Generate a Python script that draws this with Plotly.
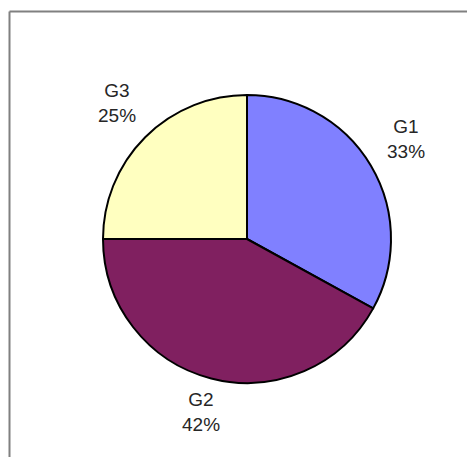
import math
import plotly.graph_objects as go

categories = ["G1", "G2", "G3"]
values = [33, 42, 25]
colors = ["#8080FF", "#802060", "#FFFFC0"]

W, H = 475, 457
OFF = 8  # page body margin in the screenshot
CX, CY, R = 247 - OFF, 239 - OFF, 144  # pie centre / radius in figure pixels

fig = go.Figure(go.Pie(
    labels=categories,
    values=values,
    sort=False,
    direction="clockwise",
    rotation=0,
    marker=dict(colors=colors, line=dict(color="#000000", width=2)),
    textinfo="none",
    hoverinfo="label+percent",
    showlegend=False,
    domain=dict(x=[(CX - R) / W, (CX + R) / W],
                y=[(H - CY - R) / H, (H - CY + R) / H]),
))

# data labels placed outside each slice at its mid angle
total = sum(values)
cum = 0
annotations = []
for cat, v in zip(categories, values):
    mid = (cum + v / 2) / total * 2 * math.pi
    cum += v
    s, c = math.sin(mid), math.cos(mid)
    rr = R * 1.28
    px = CX + rr * s
    py = CY - rr * c - 6
    pct = round(v / total * 100)
    annotations.append(dict(
        x=px / W, y=1 - py / H, xref="paper", yref="paper",
        text=f"{cat}<br>{pct}%", showarrow=False,
        xanchor="center", yanchor="middle", align="center",
        font=dict(family="Liberation Sans, Arial, sans-serif", size=19, color="#262626"),
    ))

FX, FY = 9.5 - OFF, 11.5 - OFF
shapes = [
    dict(type="line", xref="paper", yref="paper",
         x0=FX / W, x1=1.0, y0=1 - FY / H, y1=1 - FY / H,
         line=dict(color="#808080", width=2)),
    dict(type="line", xref="paper", yref="paper",
         x0=FX / W, x1=FX / W, y0=0, y1=1 - FY / H,
         line=dict(color="#808080", width=2)),
]

fig.update_layout(
    width=W, height=H,
    margin=dict(l=0, r=0, t=0, b=0),
    paper_bgcolor="white", plot_bgcolor="white",
    annotations=annotations, shapes=shapes,
)

fig.write_html("out.html")
